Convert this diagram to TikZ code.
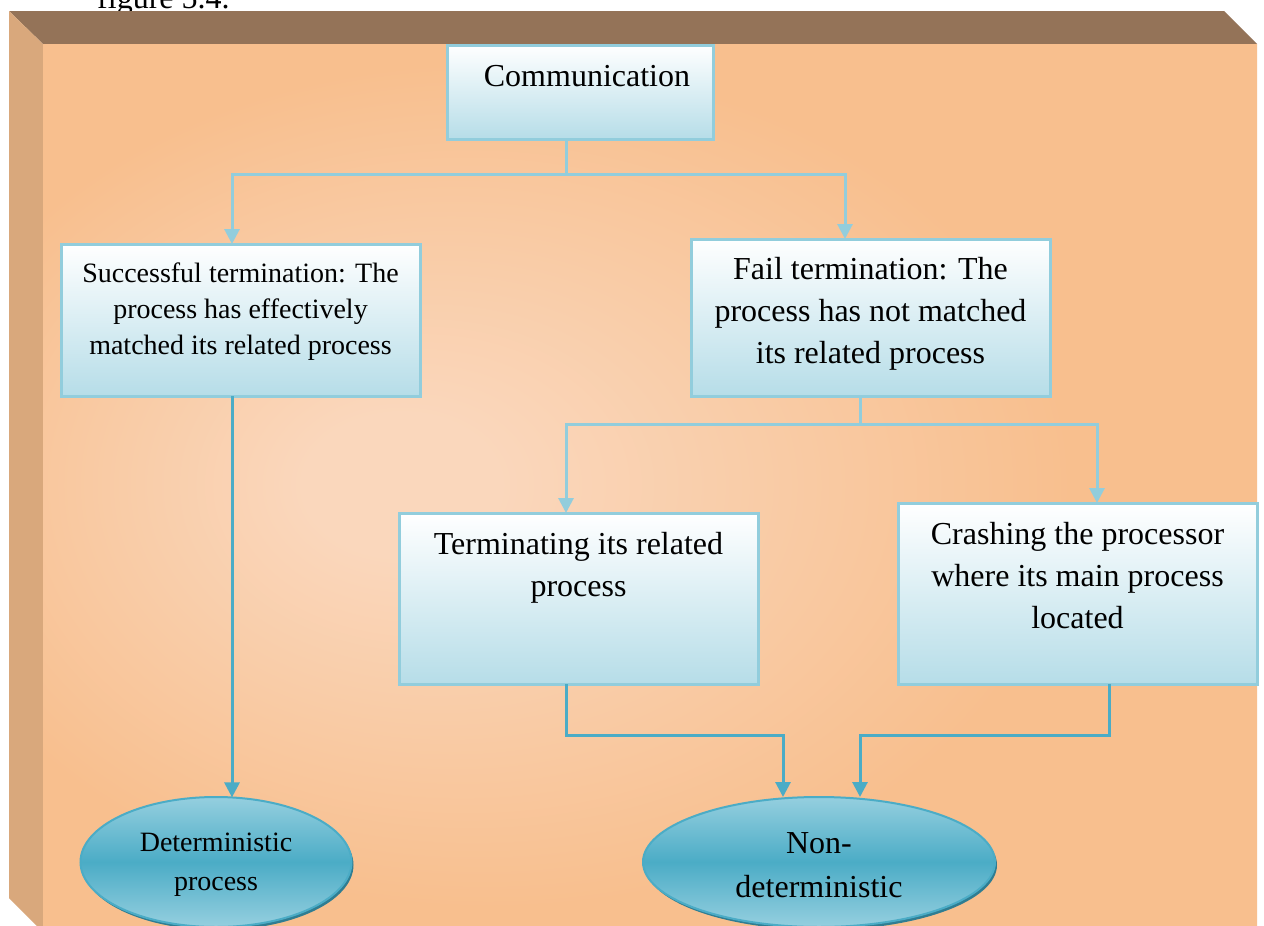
\documentclass[tikz,border=0pt]{standalone}
\usepackage{fontspec}
\setmainfont{Liberation Serif}
\usetikzlibrary{arrows.meta,shapes.geometric,shadows,calc}

\definecolor{bevelTop}{HTML}{947358}
\definecolor{bevelLeft}{HTML}{D9A87C}
\definecolor{faceOut}{HTML}{F8BF8E}
\definecolor{faceIn}{HTML}{FAD7BC}
\definecolor{boxLine}{HTML}{92CDDC}
\definecolor{boxLow}{HTML}{B6DDE8}
\definecolor{ovalMid}{HTML}{4BACC6}
\definecolor{ovalLight}{HTML}{95CFDF}
\definecolor{ovalShadow}{HTML}{2F7D92}

% soft light spot on the face of the panel, left of centre
\pgfdeclareradialshading{facelight}{\pgfpoint{-11bp}{0bp}}{color(0bp)=(faceIn); color(4bp)=(faceIn); color(24bp)=(faceOut); color(60bp)=(faceOut)}

\tikzset{
  boxnode/.style={draw=boxLine, line width=3pt, top color=white, bottom color=boxLow,
    inner sep=0pt, outer sep=0pt},
  txt/.style={inner sep=0pt, outer sep=0pt, align=center, anchor=north},
  bigtext/.style={font=\fontsize{32}{42}\selectfont},
  smalltext/.style={font=\fontsize{28}{36}\selectfont},
  oval/.style={ellipse, draw=ovalMid, line width=2pt, top color=ovalLight,
    bottom color=ovalLight, middle color=ovalMid, inner sep=0pt, outer sep=0pt,
    general shadow={fill=ovalShadow, shadow xshift=2pt, shadow yshift=-3pt}},
  lnk/.style={line width=3pt, draw=boxLine, -{Triangle[width=15pt,length=15pt]}},
  lnkdark/.style={lnk, draw=ovalMid},
}

\begin{document}
\begin{tikzpicture}[x=1pt,y=-1pt]
  \useasboundingbox (0,0) rectangle (1264,926);
  \clip (0,0) rectangle (1264,926);
  \fill[white] (0,0) rectangle (1264,926);

  % caption line running into the top edge
  \node[inner sep=0pt, anchor=base west, font=\fontsize{32}{42}\selectfont] (caption) at (97,9) {figure 5.4.};

  % bevelled panel
  \fill[bevelTop] (9,11) -- (1224,11) -- (1257,44) -- (43,44) -- cycle;
  \fill[bevelLeft] (9,11) -- (43,44) -- (43,932) -- (9,898) -- cycle;
  \shade[shading=facelight] (43,44) rectangle (1257,926);

  % boxes
  \node[boxnode, minimum width=266pt, minimum height=94pt]  (comm)  at (580,92) {};
  \node[boxnode, minimum width=359pt, minimum height=152pt] (succ)  at (240.5,320) {};
  \node[boxnode, minimum width=359pt, minimum height=157pt] (fail)  at (870.5,317.5) {};
  \node[boxnode, minimum width=359pt, minimum height=171pt] (term)  at (578.5,598.5) {};
  \node[boxnode, minimum width=359pt, minimum height=181pt] (crash) at (1077.5,593.5) {};

  % outcomes
  \node[oval, minimum width=271pt, minimum height=130pt] (det)  at (216,862) {};
  \node[oval, minimum width=352pt, minimum height=130pt] (ndet) at (819,862) {};

  % texts
  \node[txt, bigtext]   (commT)  at (587,56.6)    {\strut Communication};
  \node[txt, smalltext] (succT)  at (240.5,256.8) {\strut Successful termination: The\\process has effectively\\matched its related process};
  \node[txt, bigtext]   (failT)  at (870.5,249.6) {\strut Fail termination: The\\process has not matched\\its related process};
  \node[txt, bigtext]   (termT)  at (578.5,524.6) {\strut Terminating its related\\process};
  \node[txt, bigtext]   (crashT) at (1077.5,514.6) {\strut Crashing the processor\\where its main process\\located};
  \node[txt, font=\fontsize{28}{39}\selectfont] (detT) at (216,823.7) {\strut Deterministic\\process};
  \node[txt, font=\fontsize{32}{44}\selectfont] (ndetT) at (819,822.2) {\strut Non-\\deterministic};

  % connectors
  \draw[lnk] ($(comm.south)+(-14,0)$) -- ++(0,35) -| ($(succ.north)+(-8.5,0)$);
  \draw[lnk] ($(comm.south)+(-14,35)$) -| ($(fail.north)+(-25.5,0)$);
  \draw[lnk] ($(fail.south)+(-10.5,0)$) -- ++(0,28) -| ($(term.north)+(-12.5,0)$);
  \draw[lnk] ($(fail.south)+(-10.5,28)$) -| ($(crash.north)+(19.5,0)$);
  \draw[lnkdark] ($(succ.south)+(-8.5,0)$) -- ($(det.north)+(16,0.4)$);
  \draw[lnkdark] ($(term.south)+(-12.5,0)$) -- ++(0,51) -| ($(ndet.north)+(-36,0)$);
  \draw[lnkdark] ($(crash.south)+(31.5,0)$) -- ++(0,51) -| ($(ndet.north)+(41,0)$);
\end{tikzpicture}
\end{document}
